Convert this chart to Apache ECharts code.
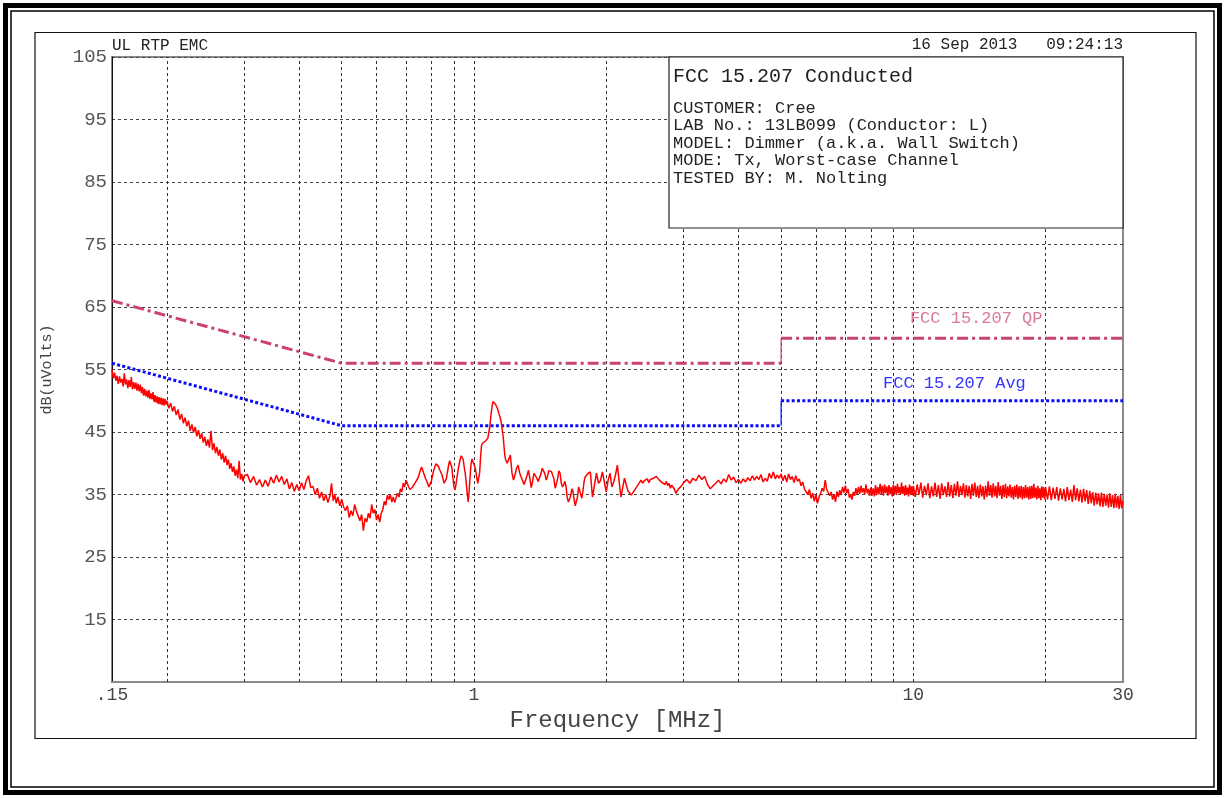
<!DOCTYPE html>
<html><head><meta charset="utf-8">
<script src="https://cdn.jsdelivr.net/npm/echarts@6/dist/echarts.min.js"></script>
<style>html,body{margin:0;padding:0;background:#fff}#c{width:1225px;height:798px}</style>
</head><body><div id="c"></div>
<script>
// ---- data ----
const gridFreqs = [0.2,0.3,0.4,0.5,0.6,0.7,0.8,0.9,1,2,3,4,5,6,7,8,9,10,20];
const xTickValues = [0.15,1,10,30];
const xTickLabels = ['.15','1','10','30'];
const yMin = 5, yMax = 105, yStep = 10;
const qpLimitLow = [[0.15,66],[0.5,56],[5,56]];
const qpLimitHigh = [[5,60],[30,60]];
const qpStep = [[5,56],[5,60]];
const avgLimitLow = [[0.15,56],[0.5,46],[5,46]];
const avgLimitHigh = [[5,50],[30,50]];
const avgStep = [[5,46],[5,50]];
const qpLabel = 'FCC 15.207 QP';
const qpLabelAt = [13.9,63.1];
const avgLabel = 'FCC 15.207 Avg';
const avgLabelAt = [12.4,52.7];
const headerLeft = 'UL RTP EMC';
const headerRight = '16 Sep 2013   09:24:13';
const infoTitle = 'FCC 15.207 Conducted';
const infoLines = ['CUSTOMER: Cree','LAB No.: 13LB099 (Conductor: L)','MODEL: Dimmer (a.k.a. Wall Switch)','MODE: Tx, Worst-case Channel','TESTED BY: M. Nolting'];
const trace = [
[0.150,55.0],[0.151,53.6],[0.152,54.5],[0.153,53.2],[0.154,54.0],[0.155,52.7],[0.156,53.9],[0.157,52.9],[0.158,53.5],[0.159,52.3],
[0.160,54.4],[0.161,52.6],[0.162,53.4],[0.163,52.0],[0.164,53.3],[0.165,52.2],[0.166,53.8],[0.167,51.8],[0.168,53.0],[0.169,51.9],
[0.170,52.9],[0.171,51.6],[0.172,52.7],[0.173,51.5],[0.174,52.6],[0.175,51.2],[0.176,52.2],[0.177,50.8],[0.178,51.9],[0.179,50.7],
[0.180,51.6],[0.181,50.5],[0.182,51.7],[0.183,50.3],[0.184,51.2],[0.185,50.2],[0.186,51.4],[0.187,49.8],[0.188,50.9],[0.189,49.7],
[0.190,50.7],[0.191,49.5],[0.192,50.6],[0.193,49.4],[0.194,50.5],[0.195,49.3],[0.196,50.4],[0.197,49.2],[0.198,50.3],[0.199,49.4],[0.200,50.0],
[0.202,48.8],[0.204,49.6],[0.206,48.3],[0.208,49.1],[0.210,47.7],[0.212,48.6],[0.214,47.0],[0.216,47.9],[0.218,46.4],[0.220,47.3],
[0.222,45.9],[0.224,46.8],[0.226,45.2],[0.228,46.2],[0.230,44.9],[0.232,45.8],[0.234,44.3],[0.236,45.3],[0.238,43.9],[0.240,44.8],
[0.242,43.3],[0.244,44.2],[0.246,42.8],[0.248,43.8],[0.250,42.5],[0.252,45.2],[0.254,42.1],[0.256,43.2],[0.258,41.6],[0.260,42.6],
[0.262,41.2],[0.264,42.2],[0.266,40.6],[0.268,41.6],[0.270,40.1],[0.272,41.2],[0.274,39.7],[0.276,40.6],[0.278,39.1],[0.280,40.0],
[0.282,38.6],[0.284,39.5],[0.286,38.0],[0.288,39.0],[0.290,37.6],[0.292,40.4],[0.294,37.4],[0.296,38.3],[0.298,37.1],[0.300,38.0],
[0.305,38.2],[0.310,36.9],[0.315,37.9],[0.320,36.5],[0.325,37.4],[0.330,36.2],[0.335,37.3],[0.340,36.3],[0.345,37.8],[0.350,36.8],
[0.355,38.1],[0.360,37.0],[0.365,37.9],[0.370,36.6],[0.375,37.5],[0.380,35.9],[0.385,36.9],[0.390,35.5],[0.395,36.6],[0.400,35.6],
[0.405,36.9],[0.410,35.8],[0.415,37.2],[0.420,38.0],[0.425,36.1],[0.430,36.3],[0.435,35.0],[0.440,36.0],[0.445,34.4],[0.450,35.4],
[0.455,34.0],[0.460,35.0],[0.465,33.7],[0.470,34.8],[0.474,36.8],[0.478,34.0],[0.482,35.0],[0.486,33.6],[0.490,34.6],[0.495,33.2],[0.500,34.2],
[0.505,33.0],[0.51,32.4],[0.515,33.2],[0.52,31.3],[0.525,32.4],[0.53,31.6],[0.535,33.4],[0.54,32.3],[0.545,32.6],[0.55,30.8],
[0.555,31.8],[0.56,29.2],[0.565,31.2],[0.57,30.6],[0.575,32.0],[0.58,31.2],[0.585,33.4],[0.59,32.0],[0.595,32.6],[0.60,30.9],
[0.605,31.8],[0.61,30.6],[0.615,32.0],[0.62,32.6],[0.625,33.9],[0.63,33.3],[0.635,34.9],[0.64,34.2],[0.645,35.0],[0.65,33.8],
[0.655,34.6],[0.66,33.7],[0.665,34.5],[0.67,35.2],[0.675,34.6],[0.68,35.9],[0.685,35.4],[0.69,36.8],[0.695,36.2],[0.70,37.3],
[0.705,36.8],[0.71,36.2],[0.715,35.8],[0.72,35.6],[0.725,36.2],[0.73,36.5],[0.735,36.9],[0.74,37.0],[0.745,37.6],[0.75,38.2],
[0.755,38.9],[0.76,39.4],[0.765,38.8],[0.77,38.2],[0.775,37.6],[0.78,37.2],[0.785,36.7],[0.79,36.2],[0.795,36.4],[0.80,37.2],
[0.805,38.1],[0.81,38.9],[0.815,39.5],[0.82,39.9],[0.825,39.7],[0.83,39.5],[0.835,39.0],[0.84,38.7],[0.845,38.2],[0.85,37.5],
[0.855,36.8],[0.86,36.5],[0.865,37.5],[0.87,38.6],[0.875,39.6],[0.88,40.4],[0.885,40.5],[0.89,39.4],[0.895,37.8],[0.90,36.3],
[0.905,35.7],[0.91,36.6],[0.915,37.8],[0.92,38.9],[0.925,39.8],[0.93,40.6],[0.935,41.2],[0.94,41.3],[0.945,40.6],[0.95,39.4],
[0.955,38.4],[0.96,36.9],[0.965,35.3],[0.97,33.8],[0.975,35.6],[0.98,38.0],[0.985,40.0],[0.99,40.7],[0.995,40.2],[1.00,39.8],
[1.005,39.4],[1.01,38.6],[1.015,37.6],[1.02,36.8],[1.025,36.5],[1.03,38.5],[1.035,41.0],[1.04,42.8],[1.045,43.2],[1.05,43.4],
[1.055,43.3],[1.06,43.5],[1.065,43.7],[1.07,43.7],[1.075,44.0],[1.08,44.3],[1.085,45.6],[1.09,46.9],[1.095,48.2],[1.10,49.2],
[1.105,49.9],[1.11,50.1],[1.115,49.8],[1.12,49.4],[1.125,49.1],[1.13,48.8],[1.135,48.4],[1.14,47.9],[1.145,47.5],[1.15,47.0],
[1.155,46.3],[1.16,45.2],[1.165,44.3],[1.17,42.8],[1.175,41.3],[1.18,40.6],[1.19,40.0],[1.20,40.2],[1.21,41.3],[1.22,38.5],
[1.23,37.3],[1.24,38.2],[1.25,39.2],[1.26,39.7],[1.27,38.5],[1.28,37.8],[1.29,37.2],[1.30,36.6],[1.31,36.9],[1.32,38.0],
[1.33,38.9],[1.34,37.6],[1.35,36.1],[1.36,37.2],[1.37,38.4],[1.38,38.5],[1.39,37.6],[1.40,37.1],[1.41,37.2],[1.42,38.3],
[1.43,39.2],[1.44,39.4],[1.45,38.3],[1.46,37.3],[1.47,37.9],[1.48,38.8],[1.49,38.9],[1.50,38.7],[1.51,38.6],[1.52,37.5],
[1.53,36.0],[1.54,35.9],[1.55,37.5],[1.56,38.8],[1.57,38.4],[1.58,36.8],[1.59,36.2],[1.60,36.6],[1.61,37.1],[1.62,36.2],
[1.63,34.5],[1.64,33.8],[1.65,33.6],[1.66,34.8],[1.67,35.9],[1.68,35.5],[1.69,34.2],[1.70,33.2],[1.71,33.0],[1.72,34.6],
[1.73,36.2],[1.74,35.9],[1.75,35.0],[1.76,34.4],[1.77,35.6],[1.78,37.0],[1.79,37.8],[1.80,37.8],[1.82,38.4],[1.84,38.6],
[1.86,34.6],[1.88,36.5],[1.90,38.4],[1.92,36.8],[1.94,37.2],[1.96,38.6],[1.98,37.0],[2.00,35.4],[2.02,37.3],[2.04,38.4],
[2.06,36.2],[2.08,37.0],[2.10,38.2],[2.12,39.7],[2.14,37.0],[2.16,34.6],[2.18,36.1],[2.20,37.6],[2.22,37.8],[2.24,35.6],
[2.26,35.4],[2.28,34.9],[2.30,35.3],[2.32,35.7],[2.34,36.1],[2.36,36.5],[2.38,36.4],[2.40,37.3],[2.42,36.8],[2.44,37.2],
[2.46,37.0],[2.48,37.5],[2.50,36.9],[2.52,37.4],[2.54,37.1],[2.56,37.6],[2.58,37.3],[2.60,37.9],[2.62,38.1],[2.64,37.3],
[2.66,37.6],[2.68,36.9],[2.70,37.0],[2.72,36.6],[2.74,37.1],[2.76,36.4],[2.78,36.8],[2.80,36.0],[2.82,36.5],[2.84,36.2],
[2.86,35.8],[2.88,35.2],[2.90,35.4],[2.92,35.9],[2.94,35.6],[2.96,36.3],[2.98,36.0],
[3.00,36.9],[3.05,37.4],[3.10,36.8],[3.15,37.6],[3.20,37.2],[3.25,38.1],[3.30,37.4],[3.35,37.9],[3.40,36.6],[3.45,35.9],
[3.50,36.4],[3.55,36.8],[3.60,37.3],[3.65,36.7],[3.70,37.5],[3.75,37.0],[3.80,38.2],[3.85,37.3],[3.90,37.8],[3.95,36.9],
[4.00,37.4],[4.05,36.8],[4.10,37.5],[4.15,37.0],[4.20,37.7],[4.25,37.2],[4.30,38.0],[4.35,37.3],[4.40,37.9],[4.45,37.4],
[4.50,38.2],[4.55,37.0],[4.60,37.6],[4.65,37.1],[4.70,38.4],[4.75,37.6],[4.80,38.6],[4.85,37.5],[4.90,38.1],[4.95,37.6],[5.00,38.3],
[5.05,37.2],[5.10,38.1],[5.15,37.0],[5.20,38.3],[5.25,37.4],[5.30,37.9],[5.35,36.9],[5.40,38.0],[5.45,37.1],[5.50,37.5],
[5.55,36.4],[5.60,37.0],[5.65,35.9],[5.70,36.2],[5.75,35.0],[5.80,35.8],[5.85,34.4],[5.90,35.2],[5.95,33.9],[6.00,35.0],
[6.05,33.6],[6.10,34.6],[6.15,35.2],[6.20,36.0],[6.25,35.5],[6.30,37.3],[6.35,35.8],[6.40,36.1],[6.45,34.8],[6.50,35.4],
[6.55,34.2],[6.60,35.0],[6.65,33.8],[6.70,35.5],[6.75,34.6],[6.80,35.7],[6.85,34.9],[6.90,36.2],[6.95,35.3],[7.00,36.4],
[7.05,35.2],[7.10,35.9],[7.15,34.5],[7.20,35.0],[7.25,34.2],[7.30,35.4],[7.35,34.8],[7.40,36.0],[7.45,35.0],[7.50,36.2],
[7.55,35.1],[7.60,36.4],[7.65,35.3],[7.70,36.0],[7.75,35.0],[7.80,36.6],[7.85,35.2],[7.90,35.9],[7.95,34.8],[8.00,36.1],
[8.05,34.8],[8.10,36.0],[8.15,34.7],[8.20,36.5],[8.25,34.9],[8.30,36.2],[8.35,35.0],[8.40,36.7],[8.45,35.1],[8.50,36.4],
[8.55,34.8],[8.60,36.6],[8.65,35.2],[8.70,36.3],[8.75,34.8],[8.80,36.5],[8.85,35.0],[8.90,36.2],[8.95,34.7],[9.00,36.6],
[9.05,35.1],[9.10,36.4],[9.15,34.9],[9.20,36.7],[9.25,35.2],[9.30,36.2],[9.35,35.0],[9.40,36.9],[9.45,35.1],[9.50,36.3],
[9.55,34.8],[9.60,36.5],[9.65,35.0],[9.70,36.1],[9.75,34.7],[9.80,36.6],[9.85,35.1],[9.90,36.3],[9.95,34.9],[10.00,36.4],
[10.1,34.6],[10.2,36.6],[10.3,35.0],[10.4,36.9],[10.5,34.5],[10.6,36.4],[10.7,34.9],[10.8,36.8],[10.9,34.4],[11.0,36.3],
[11.1,34.7],[11.2,36.9],[11.3,34.6],[11.4,36.5],[11.5,34.3],[11.6,36.8],[11.7,34.9],[11.8,36.3],[11.9,34.6],[12.0,37.0],
[12.1,34.7],[12.2,36.5],[12.3,34.4],[12.4,36.7],[12.5,34.8],[12.6,37.1],[12.7,34.6],[12.8,36.4],[12.9,34.9],[13.0,36.8],
[13.1,34.5],[13.2,36.5],[13.3,34.7],[13.4,36.4],[13.5,34.3],[13.6,36.7],[13.7,34.8],[13.8,36.9],[13.9,34.6],[14.0,36.4],
[14.1,34.4],[14.2,36.6],[14.3,34.7],[14.4,36.3],[14.5,34.2],[14.6,36.4],[14.7,34.6],[14.8,37.1],[14.9,34.8],[15.0,36.5],
[15.1,34.5],[15.2,36.8],[15.3,34.7],[15.4,36.4],[15.5,34.4],[15.6,37.0],[15.7,34.8],[15.8,36.4],[15.9,34.3],[16.0,36.5],
[16.1,34.6],[16.2,36.7],[16.3,34.4],[16.4,36.3],[16.5,34.7],[16.6,36.6],[16.7,34.5],[16.8,36.2],[16.9,34.2],[17.0,36.4],
[17.1,34.6],[17.2,36.6],[17.3,34.3],[17.4,36.3],[17.5,34.5],[17.6,36.4],[17.7,34.2],[17.8,36.2],[17.9,34.4],[18.0,36.5],
[18.1,34.5],[18.2,36.2],[18.3,34.2],[18.4,36.3],[18.5,34.3],[18.6,36.4],[18.7,34.4],[18.8,36.7],[18.9,34.5],[19.0,36.1],
[19.1,34.2],[19.2,36.4],[19.3,34.4],[19.4,36.0],[19.5,34.1],[19.6,36.3],[19.7,34.5],[19.8,36.2],[19.9,34.2],[20.0,36.1],
[20.2,34.2],[20.4,36.3],[20.6,34.1],[20.8,36.1],[21.0,34.3],[21.2,36.2],[21.4,34.0],[21.6,36.0],[21.8,34.2],[22.0,35.9],
[22.2,33.9],[22.4,36.2],[22.6,34.1],[22.8,35.8],[23.0,33.8],[23.2,36.5],[23.4,34.1],[23.6,36.0],[23.8,33.9],[24.0,35.8],
[24.2,33.7],[24.4,35.9],[24.6,33.9],[24.8,35.7],[25.0,33.5],[25.2,35.6],[25.4,33.6],[25.6,35.4],[25.8,33.2],[26.0,35.3],
[26.2,33.4],[26.4,35.2],[26.6,33.1],[26.8,35.3],[27.0,33.0],[27.2,35.1],[27.4,33.2],[27.6,35.0],[27.8,32.9],[28.0,35.2],
[28.2,33.0],[28.4,34.9],[28.6,32.8],[28.8,35.1],[29.0,32.9],[29.2,34.8],[29.4,32.7],[29.6,34.9],[29.8,32.8],[30.0,34.0]
];
// ---- chart ----
const MONO = '"Liberation Mono","DejaVu Sans Mono",monospace';
const QP_COLOR = '#c9436b';
const AVG_COLOR = '#0a0aff';
const chart = echarts.init(document.getElementById('c'), null, {renderer:'canvas'});
function lineSeries(name, data, color, width, type, z, extra){
  return Object.assign({name, type:'line', data, symbol:'none', silent:true, animation:false, z,
    lineStyle:{color, width, type}, itemStyle:{color}}, extra||{});
}
function labelMark(text, at, color){
  return {silent:true, animation:false, symbol:'circle', symbolSize:1,
    itemStyle:{color:'rgba(0,0,0,0)'},
    label:{show:true, position:'inside', formatter:text, fontFamily:MONO, fontSize:17, color},
    data:[{coord:at, value:0}]};
}
const option = {
  backgroundColor:'#fff',
  animation:false,
  grid:{left:112, top:57, right:102, bottom:116, show:true, borderColor:'#8a8a8a', borderWidth:2, backgroundColor:'transparent'},
  xAxis:{type:'log', logBase:10, min:0.15, max:30,
    axisLine:{show:true, lineStyle:{color:'#8a8a8a', width:2}},
    axisTick:{show:false}, splitLine:{show:false}, minorTick:{show:false}, minorSplitLine:{show:false},
    axisLabel:{customValues:xTickValues, formatter:(v)=>{const i=xTickValues.findIndex(t=>Math.abs(t-v)<1e-9);return i>=0?xTickLabels[i]:'';},
      fontFamily:MONO, fontSize:18, color:'#444', margin:4, showMinLabel:true, showMaxLabel:true},
    name:'Frequency [MHz]', nameLocation:'middle', nameGap:24,
    nameTextStyle:{fontFamily:MONO, fontSize:24, color:'#444'}},
  yAxis:{type:'value', min:yMin, max:yMax, interval:yStep,
    axisLine:{show:true, lineStyle:{color:'#111', width:1}},
    axisTick:{show:false},
    splitLine:{show:true, lineStyle:{color:'#444', width:1, type:[3,3]}},
    axisLabel:{formatter:(v)=> v===yMin ? '' : String(v), fontFamily:MONO, fontSize:19, color:'#555', margin:5},
    name:'dB(uVolts)', nameLocation:'middle', nameGap:57, nameRotate:90,
    nameTextStyle:{fontFamily:MONO, fontSize:15, color:'#444'}},
  series:[
    {type:'line', data:[], silent:true, markLine:{silent:true, symbol:['none','none'], animation:false,
      label:{show:false}, lineStyle:{color:'#333', width:1, type:[3,3]},
      data: gridFreqs.map(f=>({xAxis:f}))}},
    lineSeries('qp1', qpLimitLow, QP_COLOR, 3, [11,4,3,4], 5),
    lineSeries('qp2', qpLimitHigh, QP_COLOR, 3, [11,4,3,4], 5, {markPoint:labelMark(qpLabel, qpLabelAt, '#d97a97')}),
    lineSeries('qps', qpStep, QP_COLOR, 1.2, 'solid', 5),
    lineSeries('avg1', avgLimitLow, AVG_COLOR, 3, [3,2.3], 5),
    lineSeries('avg2', avgLimitHigh, AVG_COLOR, 3, [3,2.3], 5, {markPoint:labelMark(avgLabel, avgLabelAt, '#3535ff')}),
    lineSeries('avgs', avgStep, AVG_COLOR, 1.2, 'solid', 5),
    lineSeries('trace', trace, '#ff0000', 1.5, 'solid', 6)
  ],
  graphic:[
    {type:'rect', z:200, silent:true, shape:{x:5.5, y:5.5, width:1214, height:787}, style:{fill:'none', stroke:'#000', lineWidth:5}},
    {type:'rect', z:200, silent:true, shape:{x:11, y:11, width:1203, height:776}, style:{fill:'none', stroke:'#000', lineWidth:1.5}},
    {type:'rect', z:200, silent:true, shape:{x:35, y:32.5, width:1161, height:706}, style:{fill:'none', stroke:'#111', lineWidth:1.2}},
    {type:'text', z:200, silent:true, x:112, y:46, style:{text:headerLeft, font:'16px '+MONO, fill:'#222', textAlign:'left', align:'left', textVerticalAlign:'middle', verticalAlign:'middle'}},
    {type:'text', z:200, silent:true, x:1123, y:45, style:{text:headerRight, font:'16px '+MONO, fill:'#222', textAlign:'right', align:'right', textVerticalAlign:'middle', verticalAlign:'middle'}},
    {type:'rect', z:300, silent:true, shape:{x:669, y:57, width:454, height:171}, style:{fill:'#fff', stroke:'#222', lineWidth:1.2}},
    {type:'text', z:301, silent:true, x:673, y:77, style:{text:infoTitle, font:'20px '+MONO, fill:'#222', textAlign:'left', align:'left', textVerticalAlign:'middle', verticalAlign:'middle'}},
    ...infoLines.map((t,i)=>({type:'text', z:301, silent:true, x:673, y:108+i*17.5, style:{text:t, font:'17px '+MONO, fill:'#222', textAlign:'left', align:'left', textVerticalAlign:'middle', verticalAlign:'middle'}}))
  ]
};
chart.setOption(option);
</script>
</body></html>
